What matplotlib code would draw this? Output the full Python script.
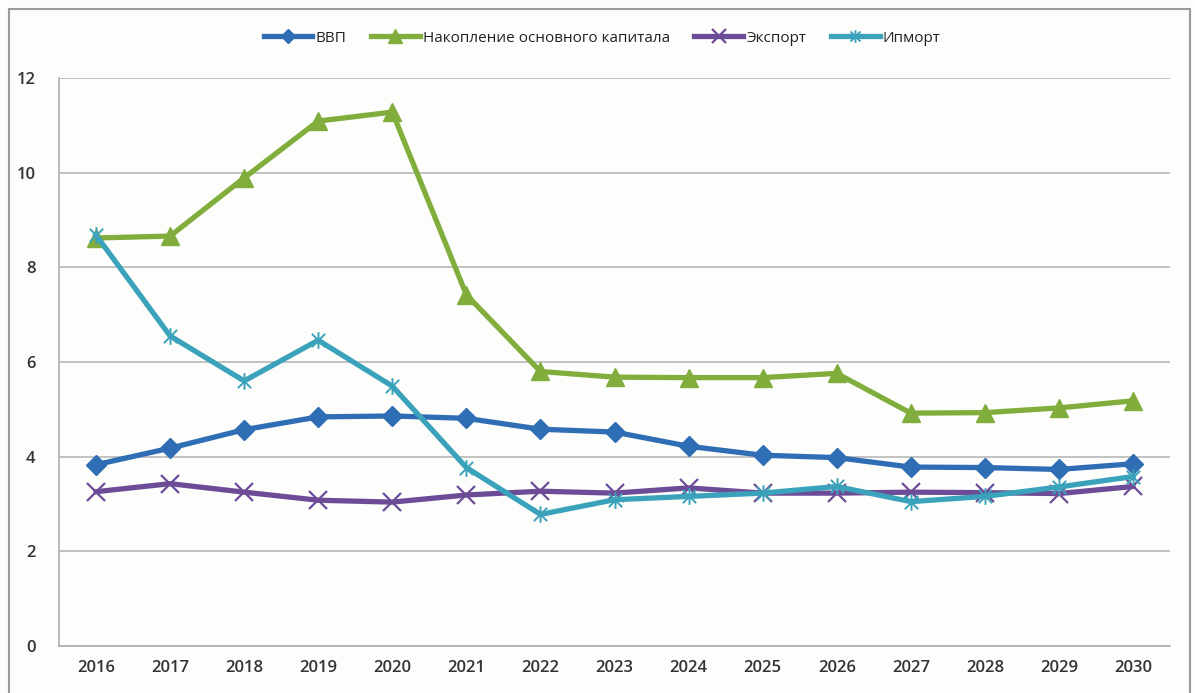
import matplotlib
matplotlib.use("Agg")
import matplotlib.pyplot as plt
from matplotlib.path import Path
from matplotlib.patches import Rectangle
import numpy as np

years = ["2016", "2017", "2018", "2019", "2020", "2021", "2022", "2023",
         "2024", "2025", "2026", "2027", "2028", "2029", "2030"]

gdp = [3.83, 4.18, 4.57, 4.84, 4.86, 4.81, 4.58, 4.52, 4.22, 4.03, 3.98,
       3.78, 3.77, 3.73, 3.85]
capital = [8.62, 8.66, 9.89, 11.09, 11.28, 7.42, 5.80, 5.68, 5.67, 5.67,
           5.76, 4.92, 4.93, 5.03, 5.18]
export = [3.26, 3.43, 3.25, 3.08, 3.04, 3.19, 3.27, 3.23, 3.34, 3.23,
          3.23, 3.25, 3.24, 3.22, 3.37]
imports = [8.68, 6.55, 5.60, 6.46, 5.49, 3.77, 2.78, 3.09, 3.16, 3.23,
           3.37, 3.05, 3.16, 3.36, 3.58]

series_names = ["ВВП", "Накопление основного капитала", "Экспорт", "Ипморт"]

plt.rcParams["font.family"] = ["Open Sans", "DejaVu Sans"]

# asterisk-style marker: X with a vertical bar
star_path = Path(
    [(-1, -1), (1, 1), (-1, 1), (1, -1), (0, -1.25), (0, 1.25)],
    [Path.MOVETO, Path.LINETO, Path.MOVETO, Path.LINETO, Path.MOVETO, Path.LINETO],
)

fig = plt.figure(figsize=(11.95, 6.93), dpi=100)
fig.patch.set_facecolor("#fdfdfb")
frame = Rectangle((9 / 1195, -0.05), 1181 / 1195, 1 - 9 / 693 + 0.05,
                  transform=fig.transFigure, fill=False,
                  edgecolor="#9a9a9a", linewidth=1.5)
fig.add_artist(frame)

ax = fig.add_axes([59 / 1195, 47 / 693, (1170 - 59) / 1195, (646 - 78) / 693])
ax.set_facecolor("#fdfdfb")

x = np.arange(len(years))
styles = [
    dict(data=gdp, color="#2f6db5", marker="D", ms=10, mew=1),
    dict(data=capital, color="#80ad3c", marker="^", ms=13, mew=1),
    dict(data=export, color="#6d4c97", marker="x", ms=13, mew=1.6),
    dict(data=imports, color="#3aa3bb", marker=star_path, ms=12, mew=1.4),
]
for name, st in zip(series_names, styles):
    ax.plot(x, st["data"], color=st["color"], lw=3.8, marker=st["marker"],
            ms=st["ms"], mew=st["mew"], mec=st["color"], mfc=st["color"],
            label=name, zorder=3, solid_joinstyle="round")

ax.set_xlim(-0.5, len(years) - 0.5)
ax.set_ylim(0, 12)
ax.set_yticks(range(0, 13, 2))
ax.set_xticks(x)
ax.set_xticklabels(years)
ax.yaxis.grid(True, color="#b8b8b8", lw=1.2)
ax.set_axisbelow(True)
for side in ["top", "right"]:
    ax.spines[side].set_visible(False)
for side in ["left", "bottom"]:
    ax.spines[side].set_color("#b0b0b0")
    ax.spines[side].set_linewidth(1.2)
ax.tick_params(axis="both", length=0, labelsize=12, labelcolor="#333333", pad=10)
ax.tick_params(axis="y", pad=17)
for lbl in ax.get_xticklabels() + ax.get_yticklabels():
    lbl.set_fontweight("semibold")

leg = fig.legend(loc="center", bbox_to_anchor=(602 / 1195, 1 - 38 / 693),
                 ncol=4, frameon=False, fontsize=11, handlelength=3.2,
                 columnspacing=1.6, handletextpad=0.2, markerscale=0.75)
for t in leg.get_texts():
    t.set_color("#222222")

fig.savefig("out.png", dpi=100, facecolor=fig.get_facecolor())
